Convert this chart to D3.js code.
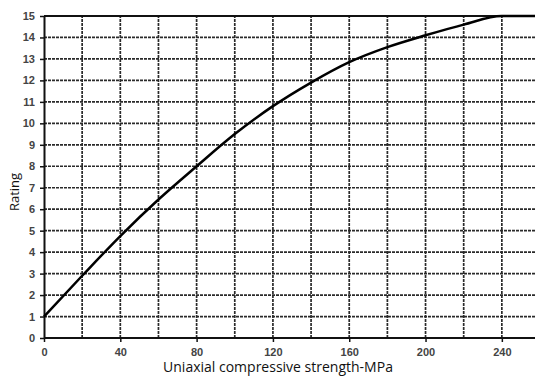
<!DOCTYPE html>
<html>
<head>
<meta charset="utf-8">
<script src="https://cdn.jsdelivr.net/npm/d3@7"></script>
<style>
  body { margin: 0; background: #fff; }
  svg { display: block; }
</style>
</head>
<body>
<svg id="chart"></svg>
<script>
// strength (MPa) and rating
const strength = [0, 20, 40, 60, 80, 100, 120, 140, 160, 180, 200, 220, 240, 250, 260];
const rating   = [1, 2.9, 4.75, 6.45, 8, 9.5, 10.8, 11.9, 12.85, 13.55, 14.1, 14.6, 15, 15, 15];
const xTicks = [0, 40, 80, 120, 160, 200, 240];
const yTicks = d3.range(0, 16);

const W = 535, H = 376;
const svg = d3.select('#chart').attr('width', W).attr('height', H);

const x = d3.scaleLinear().domain([0, 260]).range([44, 540]);
const y = d3.scaleLinear().domain([0, 15]).range([338, 16]);

// grid
const grid = svg.append('g');
grid.selectAll('.vg')
  .data(d3.range(20, 261, 20))
  .enter().append('line')
  .attr('x1', d => x(d)).attr('x2', d => x(d))
  .attr('y1', y(0)).attr('y2', y(15))
  .attr('stroke', '#2a2a2a').attr('stroke-width', 1.7)
  .attr('stroke-dasharray', '3,1');

grid.selectAll('.hg')
  .data(d3.range(1, 15))
  .enter().append('line')
  .attr('x1', x(0)).attr('x2', W)
  .attr('y1', d => y(d)).attr('y2', d => y(d))
  .attr('stroke', '#2a2a2a').attr('stroke-width', 1.7)
  .attr('stroke-dasharray', '3,1');

// frame
svg.append('line').attr('x1', x(0)).attr('x2', W).attr('y1', y(15)).attr('y2', y(15))
  .attr('stroke', '#111').attr('stroke-width', 1.8);

// axes
const xAxis = svg.append('g')
  .attr('transform', `translate(0,${y(0)})`)
  .call(d3.axisBottom(x).tickValues(xTicks).tickSize(4).tickPadding(6).tickSizeOuter(0));
const yAxis = svg.append('g')
  .attr('transform', `translate(${x(0)},0)`)
  .call(d3.axisLeft(y).tickValues(yTicks).tickSize(4).tickPadding(5).tickSizeOuter(0));

[xAxis, yAxis].forEach(a => {
  a.select('.domain').attr('stroke', '#111').attr('stroke-width', 2);
  a.selectAll('.tick line').attr('stroke', '#111').attr('stroke-width', 1.5);
  a.selectAll('.tick text')
    .attr('fill', '#444')
    .style('font-family', 'Liberation Sans, Arial, sans-serif')
    .style('font-size', '11px')
    .style('font-weight', 'bold');
});
xAxis.select('.domain').attr('d', `M${x(0)},0H${W}`);

// curve
const line = d3.line()
  .x((d, i) => x(strength[i]))
  .y((d, i) => y(rating[i]))
  .curve(d3.curveMonotoneX);

svg.append('path')
  .datum(rating)
  .attr('d', line)
  .attr('fill', 'none')
  .attr('stroke', '#000')
  .attr('stroke-width', 2.5);

// axis titles
svg.append('text')
  .attr('x', 278).attr('y', 372)
  .attr('text-anchor', 'middle')
  .style('font-family', 'Open Sans, sans-serif')
  .style('font-size', '14px')
  .attr('fill', '#111')
  .text('Uniaxial compressive strength-MPa');

svg.append('text')
  .attr('transform', 'translate(19,192) rotate(-90)')
  .attr('text-anchor', 'middle')
  .style('font-family', 'Open Sans, sans-serif')
  .style('font-size', '13px')
  .attr('fill', '#111')
  .text('Rating');
</script>
</body>
</html>
